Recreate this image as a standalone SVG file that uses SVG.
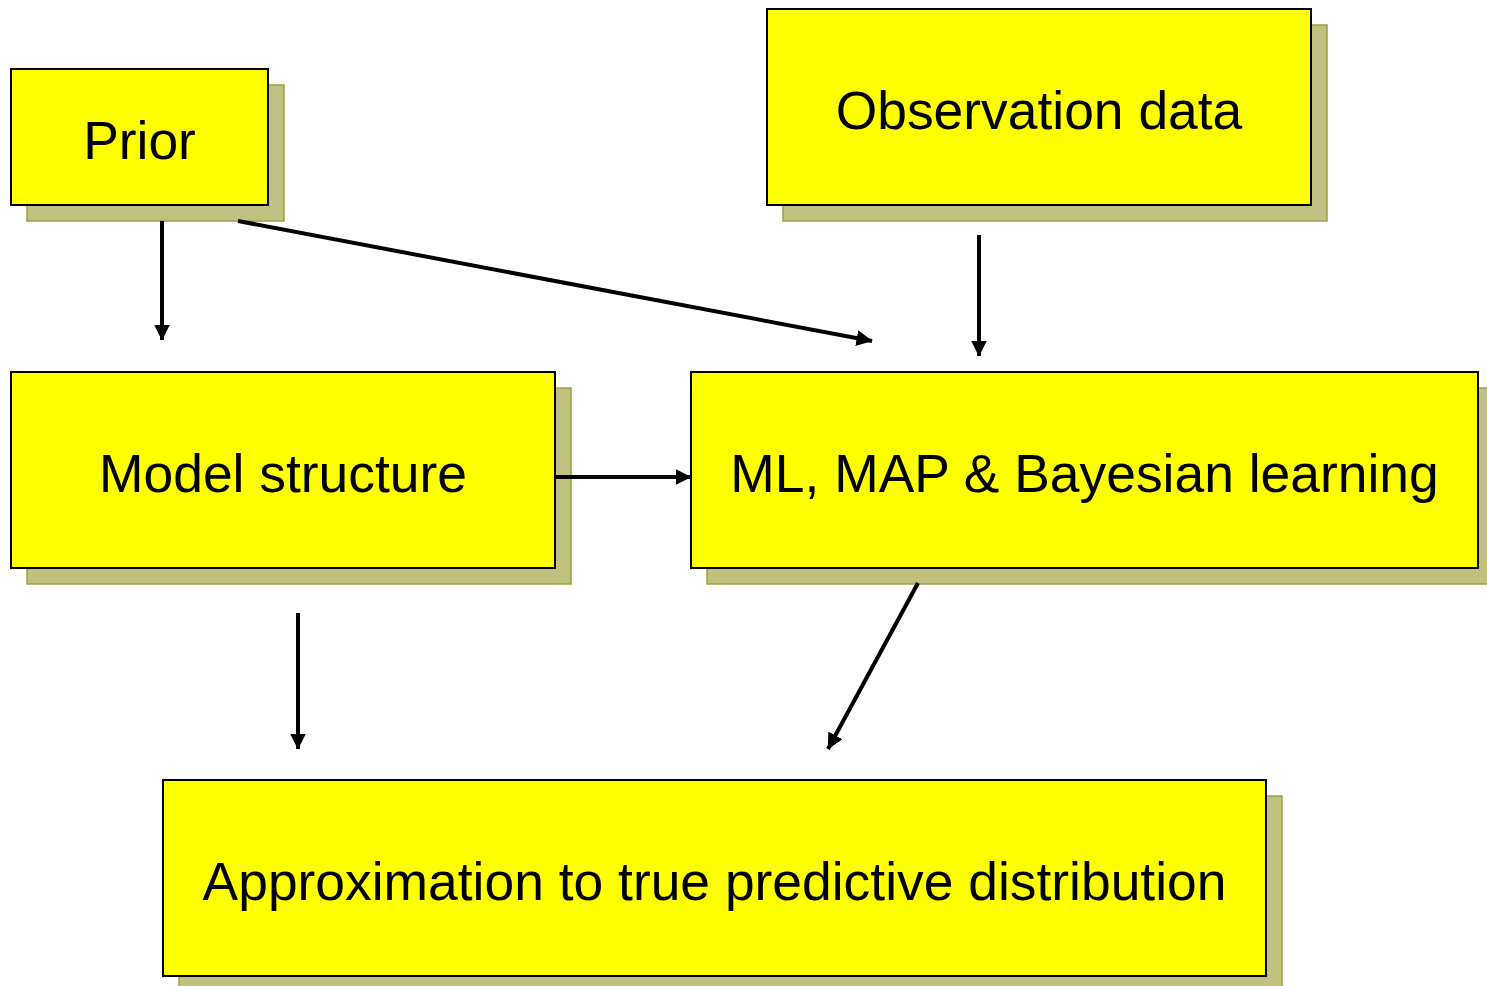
<svg xmlns="http://www.w3.org/2000/svg" width="1487" height="986" viewBox="0 0 1487 986">
  <style>
    .shadow { fill: #C0C080; stroke: #A0A040; stroke-width: 1.5; }
    .box { fill: #FFFF00; stroke: #000000; stroke-width: 2; }
    .label { font-family: "Liberation Sans", Arial, sans-serif; font-size: 53.4px; fill: #000000; text-anchor: middle; }
    .edge { stroke: #000000; stroke-width: 4; fill: none; marker-end: url(#arrow); }
  </style>
  <defs>
    <marker id="arrow" viewBox="0 0 16 16" markerWidth="16" markerHeight="16" refX="15.5" refY="8" orient="auto" markerUnits="userSpaceOnUse">
      <path d="M0,0 L16,8 L0,16 Z" fill="#000000"/>
    </marker>
  </defs>
  <rect width="1487" height="986" fill="#FFFFFF"/>

  <g id="prior">
    <rect class="shadow" x="27" y="85" width="257" height="136"/>
    <rect class="box" x="11" y="69" width="257" height="136"/>
    <text class="label" x="139.5" y="159">Prior</text>
  </g>

  <g id="observation">
    <rect class="shadow" x="783" y="25" width="544" height="196"/>
    <rect class="box" x="767" y="9" width="544" height="196"/>
    <text class="label" x="1039" y="129">Observation data</text>
  </g>

  <g id="model">
    <rect class="shadow" x="27" y="388" width="544" height="196"/>
    <rect class="box" x="11" y="372" width="544" height="196"/>
    <text class="label" x="283" y="492">Model structure</text>
  </g>

  <g id="learning">
    <rect class="shadow" x="707" y="388" width="787" height="196"/>
    <rect class="box" x="691" y="372" width="787" height="196"/>
    <text class="label" x="1084.5" y="492">ML, MAP &amp; Bayesian learning</text>
  </g>

  <g id="predictive">
    <rect class="shadow" x="179" y="796" width="1103" height="196"/>
    <rect class="box" x="163" y="780" width="1103" height="196"/>
    <text class="label" x="714.5" y="900">Approximation to true predictive distribution</text>
  </g>

  <g id="connectors">
    <line class="edge" x1="162" y1="221" x2="162" y2="340"/>
    <line class="edge" x1="238" y1="221" x2="872" y2="341"/>
    <line class="edge" x1="979" y1="235" x2="979" y2="356"/>
    <line class="edge" x1="556" y1="477" x2="691" y2="477"/>
    <line class="edge" x1="298" y1="613" x2="298" y2="749"/>
    <line class="edge" x1="918" y1="583" x2="828" y2="749"/>
  </g>
</svg>
